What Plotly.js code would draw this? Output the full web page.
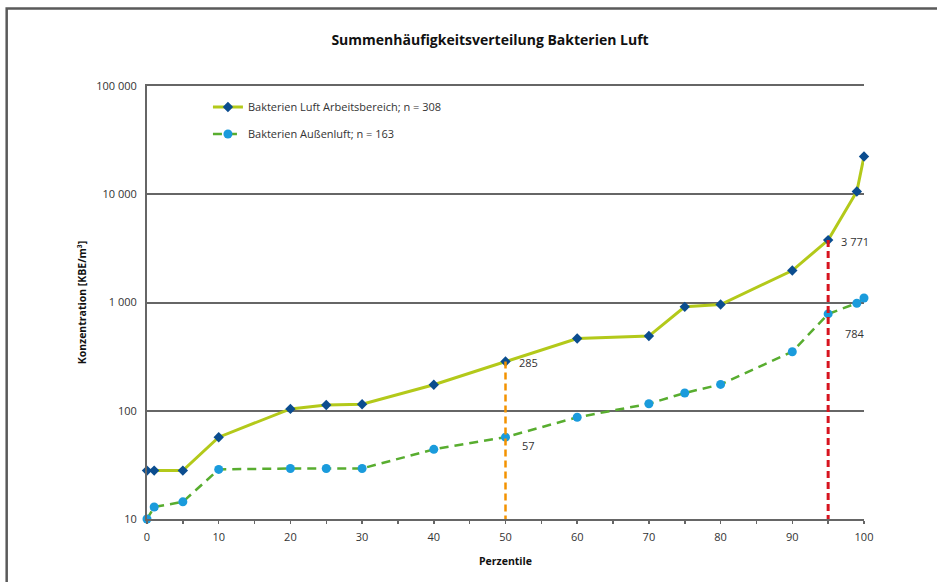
<!DOCTYPE html>
<html>
<head>
<meta charset="utf-8">
<script src="https://cdn.plot.ly/plotly-3.0.1.min.js"></script>
<style>
  html, body { margin: 0; padding: 0; background: #fff; }
  #chart { width: 937px; height: 582px; }
</style>
</head>
<body>
<div id="chart"></div>
<script>
// Percentiles (x) and concentrations [KBE/m³]
const percentiles = [0, 1, 5, 10, 20, 25, 30, 40, 50, 60, 70, 75, 80, 90, 95, 99, 100];
const arbeitsbereich = [28, 28, 28, 57, 104, 113, 115, 174, 285, 465, 490, 912, 958, 1974, 3771, 10600, 22300];
const aussenluft = [10, 12.9, 14.4, 28.7, 29.3, 29.3, 29.3, 44, 57, 87, 116, 146, 175, 351, 784, 985, 1100];

const seriesNames = ["Bakterien Luft Arbeitsbereich; n = 308", "Bakterien Außenluft; n = 163"];

// Marked reference percentiles
const markerPercentiles = [50, 95];
const markerArbeit = [285, 3771];
const markerAussen = [57, 784];
const markerLabelsArbeit = ["285", "3 771"];
const markerLabelsAussen = ["57", "784"];

const yTickVals = [10, 100, 1000, 10000, 100000];
const yTickText = ["10", "100", "1 000", "10 000", "100 000"];
const xTickVals = [0, 10, 20, 30, 40, 50, 60, 70, 80, 90, 100];

const FONT = "Open Sans, Noto Sans, sans-serif";

const traces = [
  {
    x: percentiles, y: arbeitsbereich, name: seriesNames[0],
    type: "scatter", mode: "lines+markers", cliponaxis: false,
    legendgroup: "a",
    line: { color: "#b3c91a", width: 3 },
    marker: { symbol: "diamond", size: 8, color: "#0b4d8f" }
  },
  {
    x: percentiles, y: aussenluft, name: seriesNames[1],
    type: "scatter", mode: "lines+markers", cliponaxis: false,
    legendgroup: "b",
    line: { color: "#58ad2f", width: 2.5, dash: "9px,6px" },
    marker: { symbol: "circle", size: 9, color: "#1a9bdc" }
  },
  {
    x: [markerPercentiles[0], markerPercentiles[0]], y: [markerArbeit[0], yTickVals[0]],
    type: "scatter", mode: "lines", showlegend: false, hoverinfo: "skip",
    line: { color: "#f39200", width: 2.5, dash: "7px,4px" }
  },
  {
    x: [markerPercentiles[1], markerPercentiles[1]], y: [markerArbeit[1], yTickVals[0]],
    type: "scatter", mode: "lines", showlegend: false, hoverinfo: "skip",
    line: { color: "#d7141f", width: 3, dash: "7px,4px" }
  }
];

const annotations = [];
markerPercentiles.forEach((p, i) => {
  annotations.push({
    x: p, y: Math.log10(markerArbeit[i]), xref: "x", yref: "y",
    text: markerLabelsArbeit[i], showarrow: false,
    xanchor: "left", yanchor: "middle", xshift: 11, yshift: -1,
    font: { family: FONT, size: 11, color: "#333" }
  });
  annotations.push({
    x: p, y: Math.log10(markerAussen[i]), xref: "x", yref: "y",
    text: markerLabelsAussen[i], showarrow: false,
    xanchor: "left", yanchor: "middle", xshift: i === 0 ? 14 : 15, yshift: i === 0 ? -8 : -20,
    font: { family: FONT, size: 11, color: "#333" }
  });
});

const layout = {
  width: 937, height: 582,
  margin: { l: 147, r: 73, t: 86, b: 63 },
  paper_bgcolor: "#fff", plot_bgcolor: "#fff",
  font: { family: FONT, size: 11, color: "#333" },
  title: {
    text: "<b>Summenhäufigkeitsverteilung Bakterien Luft</b>",
    font: { family: FONT, size: 14, color: "#111" },
    x: 0.523, xref: "container", xanchor: "center",
    y: 1 - 40 / 582, yref: "container", yanchor: "middle"
  },
  showlegend: true,
  legend: {
    x: 0.085, y: 0.985, xanchor: "left", yanchor: "top",
    bgcolor: "rgba(0,0,0,0)", borderwidth: 0,
    traceorder: "grouped", tracegroupgap: 8,
    font: { family: FONT, size: 11, color: "#333" }
  },
  xaxis: {
    range: [0, 100], type: "linear",
    tickvals: xTickVals, ticks: "outside", ticklen: 3, tickwidth: 1.5, tickcolor: "#666",
    minor: { dtick: 5, ticks: "outside", ticklen: 3, tickwidth: 1.5, tickcolor: "#666", showgrid: false },
    showgrid: false, zeroline: false,
    showline: true, linecolor: "#666", linewidth: 2, mirror: true,
    ticklabelstandoff: 4,
    tickfont: { family: FONT, size: 11, color: "#333" },
    title: { text: "<b>Perzentile</b>", font: { family: FONT, size: 10.5, color: "#111" }, standoff: 14 }
  },
  yaxis: {
    type: "log", range: [1, 5],
    tickvals: yTickVals, ticktext: yTickText, ticks: "",
    showgrid: true, gridcolor: "#666", gridwidth: 2,
    zeroline: false,
    showline: true, linecolor: "#666", linewidth: 2,
    ticklabelstandoff: 6,
    tickfont: { family: FONT, size: 11, color: "#333" },
    title: { text: "<b>Konzentration [KBE/m³]</b>", font: { family: FONT, size: 10.5, color: "#111" }, standoff: 8 }
  },
  annotations: annotations,
  shapes: [
    {
      type: "path", xref: "paper", yref: "paper",
      path: "M -0.1957 -0.2 L -0.1957 1.1789 L 1.2 1.1789",
      line: { color: "#5a5a5a", width: 2.5 }
    }
  ]
};

Plotly.newPlot("chart", traces, layout, { displayModeBar: false, staticPlot: true });
</script>
</body>
</html>
